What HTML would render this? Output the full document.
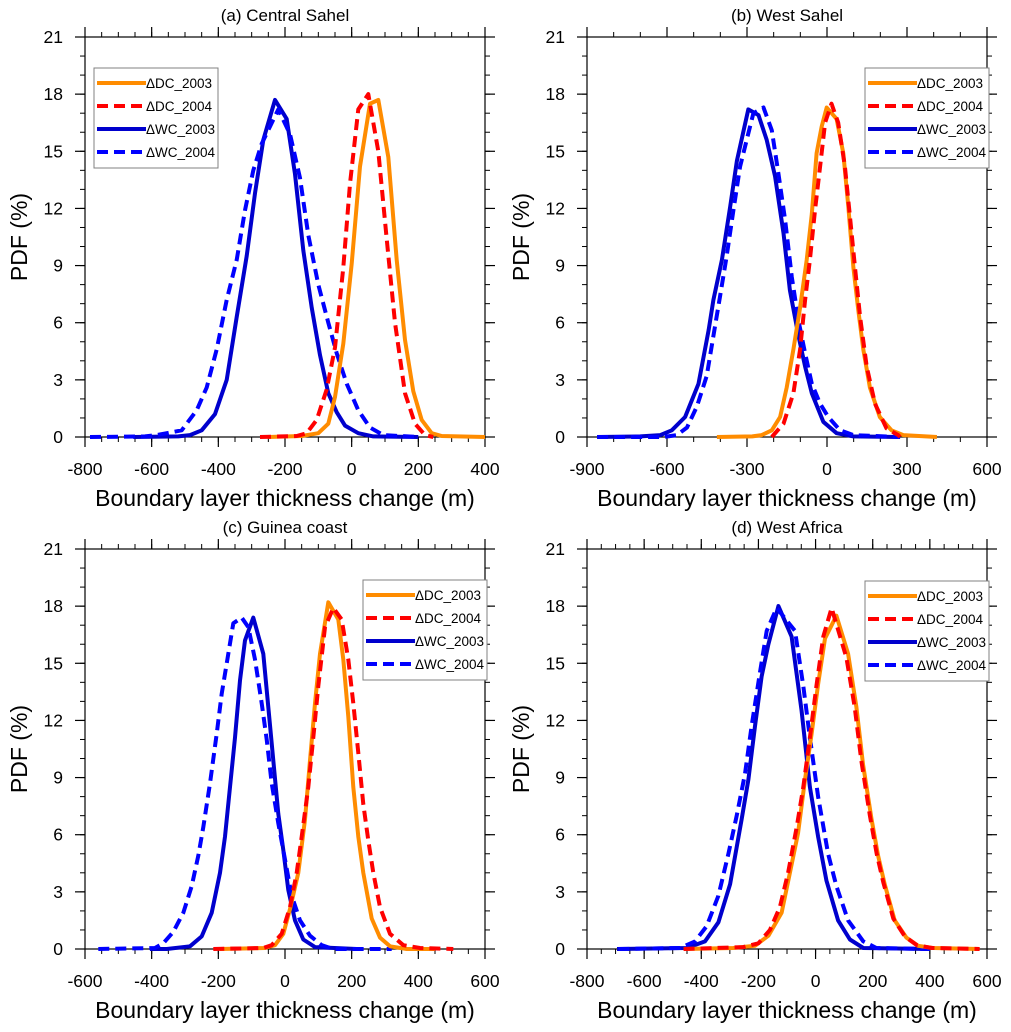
<!DOCTYPE html>
<html><head><meta charset="utf-8">
<style>
html,body{margin:0;padding:0;background:#fff;}
svg{display:block;font-family:"Liberation Sans",Arial,sans-serif;}
</style></head>
<body>
<svg id="fig" width="1011" height="1032" viewBox="0 0 1011 1032" xmlns="http://www.w3.org/2000/svg"></svg>
<script>
// ---- Panel (a) Central Sahel ----
const aDC03x=[-250,-150,-100,-70,-50,-25,0,25,55,80,110,135,160,185,210,240,270,400];
const aDC03y=[0,0.05,0.2,0.7,2.1,4.9,9.1,14.2,17.5,17.7,14.7,9.3,5.1,2.4,0.9,0.2,0.05,0];
const aDC04x=[-275,-165,-135,-105,-75,-50,-25,-5,20,50,80,105,130,160,190,220,245];
const aDC04y=[0,0.05,0.2,0.9,2.5,4.7,8.9,13.3,17.2,18,15,10.4,6,2.3,0.7,0.1,0];
const aWC03x=[-655,-520,-485,-450,-410,-375,-345,-315,-290,-265,-230,-195,-170,-145,-120,-95,-70,-45,-20,20,65,200];
const aWC03y=[0,0.03,0.1,0.35,1.2,3,6.3,9.5,12.8,15.6,17.7,16.7,13.8,9.8,6.8,4.3,2.3,1.3,0.6,0.2,0.03,0];
const aWC04x=[-785,-620,-585,-510,-465,-435,-405,-375,-345,-320,-295,-270,-220,-185,-155,-130,-100,-70,-45,-15,20,55,95,200];
const aWC04y=[0,0.03,0.1,0.35,1.4,2.6,4.6,7.2,9.3,11.9,14,15.4,17.2,15.9,13.6,10.6,8,6,4.4,2.8,1.4,0.5,0.1,0];
// ---- Panel (b) West Sahel ----
const bWC03x=[-862,-700,-625,-582,-532,-482,-444,-426,-394,-363,-338,-295,-257,-226,-195,-163,-139,-107,-82,-57,-14,36,99,274];
const bWC03y=[0,0.03,0.1,0.35,1.05,2.8,5.6,7.2,9.3,12.1,14.5,17.2,16.9,15.6,13.7,10.7,7.7,5.3,3.7,2.3,0.8,0.2,0.03,0];
const bWC04x=[-862,-613,-563,-525,-488,-451,-426,-401,-376,-351,-326,-301,-276,-238,-207,-182,-157,-132,-107,-82,-57,-26,5,49,99,274];
const bWC04y=[0,0,0.1,0.5,1.6,3.2,5.3,7.4,9.5,11.9,14.2,15.6,17,17.3,16.1,13.8,11.4,8.4,6.1,4.4,2.8,1.75,1.05,0.35,0.1,0];
const bDC03x=[-413,-280,-245,-207,-176,-151,-126,-101,-76,-57,-39,-20,-1,36,61,80,99,117,136,161,198,242,286,412];
const bDC03y=[0,0.03,0.1,0.35,1.05,2.6,4.6,6.8,9.3,11.7,14.9,16.3,17.3,16.7,14.9,12.1,8.9,6.7,4.6,2.6,1.05,0.35,0.1,0];
const bDC04x=[-207,-163,-126,-101,-82,-64,-45,-26,-7,17,42,67,86,105,124,149,180,223,267,274];
const bDC04y=[0,0.7,2.3,4.6,7.2,9.3,11.9,14.2,16.5,17.5,16.5,14.2,11.6,8.9,6.3,3.7,1.75,0.45,0.1,0];
// ---- Panel (c) Guinea coast ----
const cWC03x=[-405,-355,-285,-250,-220,-195,-180,-165,-150,-135,-120,-95,-65,-50,-35,-20,-5,10,30,55,90,215];
const cWC03y=[0,0,0.14,0.66,1.9,4,5.9,8.5,11.1,14.1,16.2,17.4,15.5,12.7,9.9,7.1,5.2,3.1,1.5,0.5,0.1,0];
const cWC04x=[-560,-390,-365,-335,-305,-280,-260,-245,-225,-205,-190,-170,-155,-130,-110,-90,-70,-55,-40,-20,0,20,45,75,110,145,320];
const cWC04y=[0,0.05,0.3,0.9,1.9,3.3,4.9,6.4,8.7,11.3,13.4,15.5,17.1,17.4,16.9,15.2,12.9,11,8.7,6.6,4.7,2.8,1.5,0.7,0.2,0,0];
const cDC03x=[-195,-60,-30,-5,15,40,60,75,90,105,130,160,175,190,205,220,235,260,285,315,365,450];
const cDC03y=[0,0.05,0.2,0.8,2.1,4,6.8,9.9,12.9,15.5,18.2,17.3,15.2,12.2,8.5,5.9,4,1.6,0.6,0.14,0,0];
const cDC04x=[-215,-65,-40,-10,15,35,50,70,85,100,120,145,170,190,205,220,235,250,265,285,315,355,405,505];
const cDC04y=[0,0.05,0.2,0.8,2.2,4,5.9,8.5,11.1,13.8,16.9,17.9,17.3,15.2,12.9,10.3,7.6,5.7,4,2.2,0.8,0.2,0.05,0];
// ---- Panel (d) West Africa ----
const dWC03x=[-695,-451,-387,-340,-299,-259,-235,-212,-189,-165,-130,-84,-49,-20,9,38,79,120,167,400];
const dWC03y=[0,0.05,0.4,1.4,3.4,6.8,8.9,11.7,14.3,16,18,16.4,12.5,8.5,5.9,3.6,1.5,0.5,0.05,0];
const dWC04x=[-690,-474,-422,-381,-340,-305,-276,-247,-224,-195,-171,-136,-72,-43,-20,9,44,73,114,167,213,400];
const dWC04y=[0,0.05,0.4,1.2,2.8,5,7,9.2,11.7,14.5,16.7,17.9,16.7,13.8,11.1,8,5,3.3,1.5,0.4,0.05,0];
const dDC03x=[-462,-288,-212,-165,-119,-90,-61,-37,-14,9,33,73,114,143,166,196,219,242,277,318,359,411,574];
const dDC03y=[0,0.05,0.17,0.7,1.9,4,6.1,8.9,11.3,13.9,16.3,17.5,15.5,12.7,9.7,6.8,4.9,3.4,1.5,0.6,0.17,0.05,0];
const dDC04x=[-462,-253,-200,-160,-125,-96,-66,-43,-20,3,27,56,108,137,160,190,214,237,272,313,355,407,574];
const dDC04y=[0,0.1,0.3,1,2.2,4,6.4,8.5,11.1,13.8,16.4,17.9,15.3,12.7,9.9,7,5,3.5,1.6,0.65,0.2,0.05,0];
// ticks
const yTicks=[0,3,6,9,12,15,18,21];
const aXTicks=[-800,-600,-400,-200,0,200,400];
const bXTicks=[-900,-600,-300,0,300,600];
const cXTicks=[-600,-400,-200,0,200,400,600];
const dXTicks=[-800,-600,-400,-200,0,200,400,600];
const seriesNames=["ΔDC_2003","ΔDC_2004","ΔWC_2003","ΔWC_2004"];

const NS="http://www.w3.org/2000/svg";
const svg=document.getElementById('fig');
function mk(tag,attrs,parent){const e=document.createElementNS(NS,tag);for(const k in attrs)e.setAttribute(k,attrs[k]);(parent||svg).appendChild(e);return e;}
const styles=[
 {c:"#ff8c00",d:null},{c:"#ff0000",d:"11 6"},{c:"#0000cd",d:null},{c:"#0000ff",d:"11 6"}];

function panel(id,title,x0,x1,y0,y1,xmin,xmax,xt,minorStep,data,leg){
  const g=mk('g',{});
  
  
  const sx=v=>x0+(v-xmin)/(xmax-xmin)*(x1-x0);
  const sy=v=>y1-v/21*(y1-y0);
  const t=mk('text',{x:(x0+x1)/2,y:y0-16,'text-anchor':'middle','font-size':17,fill:'#000'},g);
  t.textContent=title;
  
  
  for(let v=xmin;v<=xmax+0.01;v+=minorStep){
    const X=sx(v);
    mk('line',{x1:X,x2:X,y1:y1,y2:y1+5,stroke:'#000','stroke-width':1},g);
    mk('line',{x1:X,x2:X,y1:y0,y2:y0-5,stroke:'#000','stroke-width':1},g);
  }
  for(let v=0;v<=21;v++){
    const Y=sy(v);
    mk('line',{x1:x0-5,x2:x0,y1:Y,y2:Y,stroke:'#000','stroke-width':1},g);
    mk('line',{x1:x1,x2:x1+5,y1:Y,y2:Y,stroke:'#000','stroke-width':1},g);
  }
  xt.forEach(v=>{
    const X=sx(v);
    mk('line',{x1:X,x2:X,y1:y1,y2:y1+10,stroke:'#000','stroke-width':1.2},g);
    mk('line',{x1:X,x2:X,y1:y0,y2:y0-10,stroke:'#000','stroke-width':1.2},g);
    const l=mk('text',{x:X,y:y1+38,'text-anchor':'middle','font-size':17.5,fill:'#000'},g);
    l.textContent=String(v);
    
    
  });
  yTicks.forEach(v=>{
    const Y=sy(v);
    mk('line',{x1:x0-10,x2:x0,y1:Y,y2:Y,stroke:'#000','stroke-width':1.2},g);
    mk('line',{x1:x1,x2:x1+10,y1:Y,y2:Y,stroke:'#000','stroke-width':1.2},g);
    const l=mk('text',{x:x0-22,y:Y+6,'text-anchor':'end','font-size':17.5,fill:'#000'},g);
    l.textContent=String(v);
    
    
  });
  const fr=mk('rect',{x:x0,y:y0,width:x1-x0,height:y1-y0,fill:'none',stroke:'#000','stroke-width':1.2},g);
  
  
  const xl=mk('text',{x:(x0+x1)/2,y:y1+69,'text-anchor':'middle','font-size':23,fill:'#000'},g);
  xl.textContent="Boundary layer thickness change (m)";
  
  
  const yc=(y0+y1)/2, yx=x0-58;
  const yl=mk('text',{x:yx,y:yc,'text-anchor':'middle','font-size':23,fill:'#000',transform:`rotate(-90 ${yx} ${yc})`},g);
  yl.textContent="PDF (%)";
  
  
  const order=[2,3,0,1];
  order.forEach(i=>{
    const [xs,ys]=data[i];
    const pts=xs.map((v,k)=>sx(v).toFixed(1)+','+sy(ys[k]).toFixed(1)).join(' ');
    const a={points:pts,fill:'none',stroke:styles[i].c,'stroke-width':4,'stroke-linejoin':'round'};
    if(styles[i].d)a['stroke-dasharray']=styles[i].d;
    const p=mk('polyline',a,g);
    
    
  });
  const [lx,ly]=leg;
  const lg=mk('g',{},g);
  
  
  mk('rect',{x:lx,y:ly,width:124,height:100,fill:'#fff',stroke:'#808080','stroke-width':1},lg);
  seriesNames.forEach((n,i)=>{
    const Y=ly+15+i*23;
    const a={x1:lx+3,x2:lx+52,y1:Y,y2:Y,stroke:styles[i].c,'stroke-width':4};
    if(styles[i].d)a['stroke-dasharray']=styles[i].d;
    const ln=mk('line',a,lg);
    
    
    const tx=mk('text',{x:lx+52,y:Y+5,'font-size':13.5,fill:'#000'},lg);
    tx.textContent=n;
    
    
  });
}
panel('a','(a) Central Sahel',85,485,37,437,-800,400,aXTicks,50,
  [[aDC03x,aDC03y],[aDC04x,aDC04y],[aWC03x,aWC03y],[aWC04x,aWC04y]],[94,68]);
panel('b','(b) West Sahel',587,987,37,437,-900,600,bXTicks,100,
  [[bDC03x,bDC03y],[bDC04x,bDC04y],[bWC03x,bWC03y],[bWC04x,bWC04y]],[865,68]);
panel('c','(c) Guinea coast',85,485,549,949,-600,600,cXTicks,50,
  [[cDC03x,cDC03y],[cDC04x,cDC04y],[cWC03x,cWC03y],[cWC04x,cWC04y]],[363,580]);
panel('d','(d) West Africa',587,987,549,949,-800,600,dXTicks,50,
  [[dDC03x,dDC03y],[dDC04x,dDC04y],[dWC03x,dWC03y],[dWC04x,dWC04y]],[865,581]);
</script>
</body></html>
